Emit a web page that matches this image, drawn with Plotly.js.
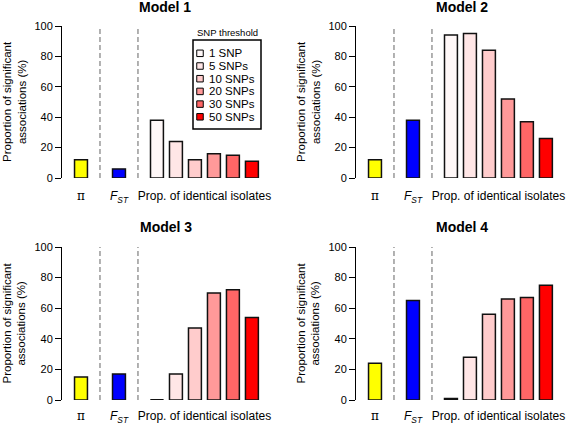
<!DOCTYPE html>
<html>
<head>
<meta charset="utf-8">
<script src="https://cdn.plot.ly/plotly-3.0.1.min.js"></script>
<style>html,body{margin:0;padding:0;background:#fff;}#chart{width:567px;height:425px;}</style>
</head>
<body>
<div id="chart"></div>
<script>
// ---- Data ----
const models = ['Model 1', 'Model 2', 'Model 3', 'Model 4'];
const piValues = [12, 12, 15, 24];
const fstValues = [6, 38, 17, 65];
const thresholds = ['1 SNP', '5 SNPs', '10 SNPs', '20 SNPs', '30 SNPs', '50 SNPs'];
const propModel1 = [38, 24, 12, 16, 15, 11];
const propModel2 = [94, 95, 84, 52, 37, 26];
const propModel3 = [0, 17, 47, 70, 72, 54];
const propModel4 = [1, 28, 56, 66, 67, 75];
const groupLabels = ['\u03c0', 'F_ST', 'Prop. of identical isolates'];
const yTicks = [0, 20, 40, 60, 80, 100];
const legendTitle = 'SNP threshold';
const yTitle = 'Proportion of significant<br>associations (%)';

// ---- Styles ----
const W = 567, H = 425;
const piColor = '#FFFF00';
const fstColor = '#0000FF';
const thresholdColors = ['#FFF8F8', '#FFE6E6', '#FFCCCC', '#FF9999', '#FF6666', '#FF0000'];
const FONT = 'Liberation Sans, Arial, Helvetica, sans-serif';
const propModels = [propModel1, propModel2, propModel3, propModel4];

const px = x => x / W;
const py = y => 1 - y / H;

// panel geometry in pixels: [left, right], [top(100), bottom(0)]
const panelX = [[62, 269], [356, 563], [62, 269], [356, 563]];
const panelY = [[26, 178], [26, 178], [247, 400], [247, 400]];
const titlePos = [[165, 7], [462, 7], [166, 227], [462, 227]];
const labelStandoff = [9, 9, 7, 7];

const piPos = 0, fstPos = 2;
const propPos = thresholds.map((_, i) => 4 + i);
const sepPos = [(piPos + fstPos) / 2, (fstPos + propPos[0]) / 2];
const barW = 0.68;
const outline = {color: '#111', width: 1.5};

const data = [];
const layout = {
  width: W, height: H,
  margin: {l: 0, r: 0, t: 0, b: 0},
  paper_bgcolor: '#fff', plot_bgcolor: 'rgba(0,0,0,0)',
  showlegend: false,
  font: {family: FONT, size: 11, color: '#000'},
  bargap: 0,
  shapes: [], annotations: []
};

models.forEach((m, k) => {
  const n = k + 1;
  const xa = 'x' + (n === 1 ? '' : n), ya = 'y' + (n === 1 ? '' : n);
  data.push({type: 'bar', x: [piPos], y: [piValues[k]], width: barW, xaxis: xa, yaxis: ya,
    marker: {color: piColor, line: outline}, hoverinfo: 'none'});
  data.push({type: 'bar', x: [fstPos], y: [fstValues[k]], width: barW, xaxis: xa, yaxis: ya,
    marker: {color: fstColor, line: outline}, hoverinfo: 'none'});
  data.push({type: 'bar', x: propPos, y: propModels[k], width: barW, xaxis: xa, yaxis: ya,
    marker: {color: thresholdColors, line: outline}, hoverinfo: 'none'});
  // zero-height bars drawn as a flat outline
  propModels[k].forEach((v, i) => {
    if (v === 0) {
      data.push({type: 'scatter', mode: 'lines', x: [propPos[i] - barW / 2, propPos[i] + barW / 2], y: [v, v],
        xaxis: xa, yaxis: ya, line: {color: '#111', width: 2}, cliponaxis: false, hoverinfo: 'none'});
    }
  });

  const xKey = 'xaxis' + (n === 1 ? '' : n), yKey = 'yaxis' + (n === 1 ? '' : n);
  layout[xKey] = {
    domain: [px(panelX[k][0]), px(panelX[k][1])], anchor: ya, range: [-1, 9.9],
    showgrid: false, zeroline: false, showline: false, ticks: '',
    tickvals: [piPos, fstPos, (propPos[0] + propPos[propPos.length - 1]) / 2],
    ticktext: ['<span style="font-family:DejaVu Serif">' + groupLabels[0] + '</span>',
      '<i>' + groupLabels[1].split('_')[0] + '<sub>' + groupLabels[1].split('_')[1] + '</sub></i>',
      groupLabels[2]],
    tickfont: {family: FONT, size: 12, color: '#000'}, ticklabelstandoff: labelStandoff[k], fixedrange: true
  };
  layout[yKey] = {
    domain: [py(panelY[k][1]), py(panelY[k][0])], anchor: xa, range: [0, 100],
    showgrid: false, zeroline: false, showline: true, linecolor: '#000', linewidth: 1,
    ticks: 'outside', ticklen: 6, tickcolor: '#000', tickwidth: 1, tickvals: yTicks,
    tickfont: {family: FONT, size: 11, color: '#000'}, fixedrange: true
  };
  sepPos.forEach(s => layout.shapes.push({type: 'line', xref: xa, yref: ya, x0: s, x1: s, y0: 0, y1: 100,
    line: {color: '#999', width: 1.5, dash: '5px,3px'}}));
  layout.annotations.push({text: '<b>' + m + '</b>', xref: 'paper', yref: 'paper',
    x: px(titlePos[k][0]), y: py(titlePos[k][1]), xanchor: 'center', yanchor: 'middle', showarrow: false,
    font: {family: FONT, size: 14, color: '#000'}});
  layout.annotations.push({text: yTitle, xref: 'paper', yref: 'paper', textangle: -90,
    x: px(panelX[k][0] - 48), y: py((panelY[k][0] + panelY[k][1]) / 2), xanchor: 'center', yanchor: 'middle',
    showarrow: false, font: {family: FONT, size: 11.5, color: '#000'}});
});

// ---- Legend (panel 1) built from thresholds and colours ----
const lg = {left: 193, right: 261, top: 40, bottom: 129, firstY: 53.3, step: 12.7, sqX: 200, sq: 6.5, textX: 207};
layout.shapes.push({type: 'rect', xref: 'paper', yref: 'paper', x0: px(lg.left), x1: px(lg.right),
  y0: py(lg.bottom), y1: py(lg.top), line: {color: '#000', width: 1.5}, fillcolor: 'rgba(0,0,0,0)'});
layout.annotations.push({text: legendTitle, xref: 'paper', yref: 'paper', x: px((lg.left + lg.right) / 2),
  y: py(33), xanchor: 'center', yanchor: 'middle', showarrow: false, font: {family: FONT, size: 9.5, color: '#000'}});
thresholds.forEach((t, i) => {
  const cy = lg.firstY + i * lg.step;
  layout.shapes.push({type: 'rect', xref: 'paper', yref: 'paper',
    x0: px(lg.sqX - lg.sq / 2), x1: px(lg.sqX + lg.sq / 2), y0: py(cy + lg.sq / 2), y1: py(cy - lg.sq / 2),
    fillcolor: thresholdColors[i], line: {color: '#000', width: 1}});
  layout.annotations.push({text: t, xref: 'paper', yref: 'paper', x: px(lg.textX), y: py(cy),
    xanchor: 'left', yanchor: 'middle', showarrow: false, font: {family: FONT, size: 11.5, color: '#000'}});
});

Plotly.newPlot('chart', data, layout, {staticPlot: true, displayModeBar: false});
</script>
</body>
</html>
